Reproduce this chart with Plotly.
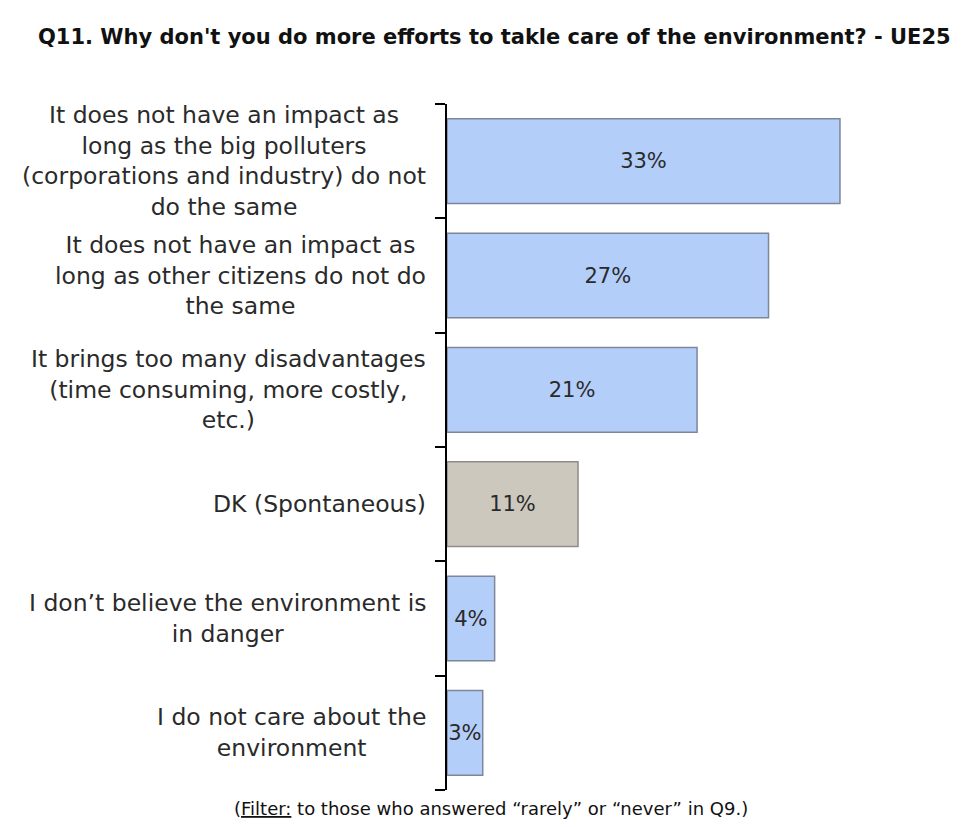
import plotly.graph_objects as go

categories = [
    "It does not have an impact as<br>long as the big polluters<br>(corporations and industry) do not<br>do the same",
    "It does not have an impact as<br>long as other citizens do not do<br>the same",
    "It brings too many disadvantages<br>(time consuming, more costly,<br>etc.)",
    "DK (Spontaneous)",
    "I don’t believe the environment is<br>in danger",
    "I do not care about the<br>environment",
]
values = [33, 27, 21, 11, 4, 3]
value_labels = ["33%", "27%", "21%", "11%", "4%", "3%"]
bar_colors = ["#B4CEFA", "#B4CEFA", "#B4CEFA", "#CCC8BE", "#B4CEFA", "#B4CEFA"]
line_colors = ["#7D8799", "#7D8799", "#7D8799", "#8E8C88", "#7D8799", "#7D8799"]

title = "Q11. Why don't you do more efforts to takle care of the environment? - UE25"
footnote = "(<u>Filter:</u> to those who answered “rarely” or “never” in Q9.)"

# Page body has an 8px default margin; figure coordinates account for it.
W, H = 960, 819
L, T, PW, PH = 439, 96, 493, 686

fig = go.Figure()
fig.add_trace(go.Bar(
    x=values,
    y=list(range(len(categories))),
    orientation="h",
    marker=dict(color=bar_colors, line=dict(color=line_colors, width=1.5)),
    text=value_labels,
    textposition="inside",
    insidetextanchor="middle",
    textangle=0,
    textfont=dict(family="DejaVu Sans", size=21, color="#2a2a2a"),
    cliponaxis=False,
    hoverinfo="skip",
))

for i, c in enumerate(categories):
    fig.add_annotation(
        x=0, y=i, xref="x", yref="y",
        text=c, showarrow=False,
        xanchor="right", yanchor="middle", align="center",
        xshift=-19,
        font=dict(family="DejaVu Sans", size=23.5, color="#2a2a2a"),
    )

fig.add_annotation(
    x=(28 - L) / PW, y=1 + (T - 29) / PH, xref="paper", yref="paper",
    text="<b>" + title + "</b>",
    showarrow=False, xanchor="left", yanchor="middle",
    font=dict(family="DejaVu Sans", size=21, color="#111111"),
)
fig.add_annotation(
    x=(483 - L) / PW, y=-(800 - (T + PH)) / PH, xref="paper", yref="paper",
    text=footnote, showarrow=False, xanchor="center", yanchor="middle",
    font=dict(family="DejaVu Sans", size=18, color="#111111"),
)

fig.update_layout(
    width=W, height=H,
    margin=dict(l=L, r=W - L - PW, t=T, b=H - T - PH),
    paper_bgcolor="white", plot_bgcolor="white",
    bargap=0.26,
    showlegend=False,
    uniformtext=dict(minsize=21, mode="show"),
)
fig.update_xaxes(range=[0, 41.4], visible=False)
fig.update_yaxes(
    range=[5.5, -0.5], tickmode="array", tickvals=[-0.5, 0.5, 1.5, 2.5, 3.5, 4.5, 5.5],
    showticklabels=False, ticks="outside", ticklen=10, tickwidth=2, tickcolor="black",
    showline=True, linewidth=2, linecolor="black", showgrid=False, zeroline=False,
)

fig.write_html("out.html")
